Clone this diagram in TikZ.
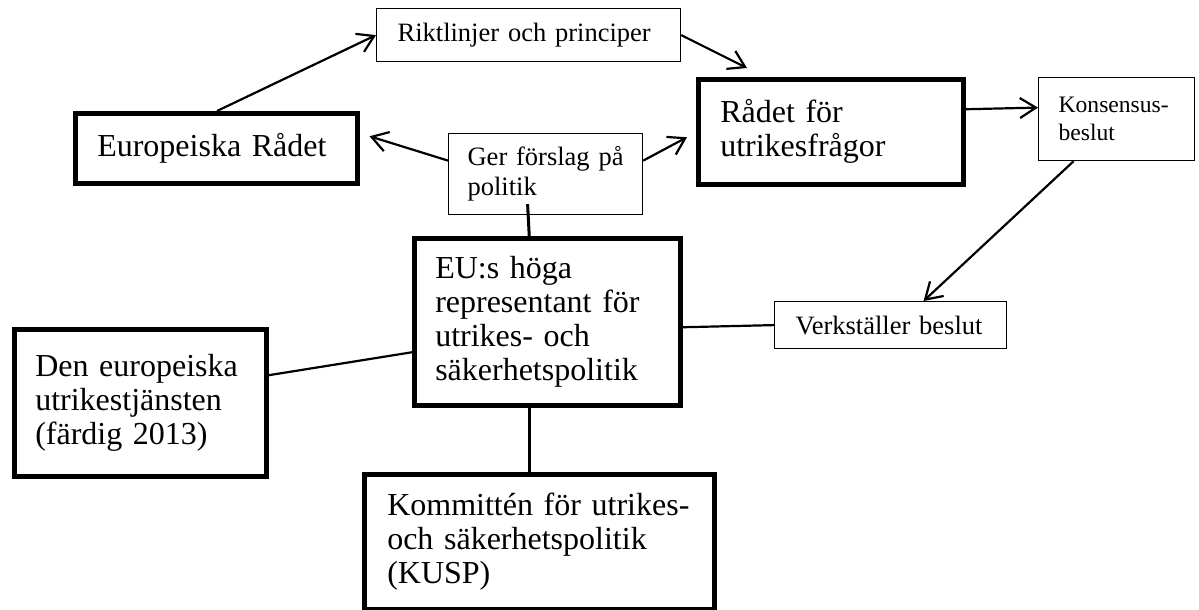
\documentclass[tikz,border=0pt]{standalone}
\usepackage{fontspec}
\setmainfont{Liberation Serif}
\usetikzlibrary{arrows.meta}
\newcommand{\fbig}{\fontsize{32}{34}\selectfont}
\newcommand{\fmid}{\fontsize{26.5}{30}\selectfont}
\newcommand{\fsml}{\fontsize{23.6}{28}\selectfont}
\tikzset{
  boxbase/.style={anchor=north west, align=left, inner sep=2pt, fill=white,
    execute at begin node={\hyphenpenalty=10000\exhyphenpenalty=10000}},
  thickbox/.style={boxbase, draw, line width=4.5pt, font=\fbig},
  thinbox/.style={boxbase, draw, line width=1.2pt, font=\fmid},
  conn/.style={line width=2.2pt},
  vconn/.style={line width=3pt},
  arr/.style={conn, -{Straight Barb[length=16pt, width=20pt, line width=2.2pt]}}
}
\begin{document}
\begin{tikzpicture}[x=1pt, y=-1pt]
\useasboundingbox (0,0) rectangle (1199,610);
% nodes
\node[thickbox, minimum width=282pt, minimum height=70pt, text width=238pt] (eur) at (73,111) {Europeiska Rådet};
\node[thinbox, minimum width=304pt, minimum height=53pt, text width=262pt] (rik) at (376,8) {Riktlinjer och principer};
\node[thickbox, minimum width=265pt, minimum height=105pt, text width=221pt] (rad) at (696,77) {Rådet för\\utrikesfrågor};
\node[thinbox, font=\fsml, minimum width=156pt, minimum height=83pt, text width=116pt] (kon) at (1038,77) {Konsensus-\\beslut};
\node[thinbox, minimum width=194pt, minimum height=81pt, text width=156pt] (ger) at (448,133) {Ger förslag på\\politik};
\node[thickbox, minimum width=266pt, minimum height=167pt, text width=224pt] (eu) at (412,236) {EU:s höga\\representant för\\utrikes- och\\säkerhetspolitik};
\node[thinbox, minimum width=232pt, minimum height=47pt, text width=190pt] (ver) at (774,301) {Verkställer beslut};
\node[thickbox, minimum width=252pt, minimum height=147pt, text width=210pt] (den) at (12,327) {Den europeiska\\utrikestjänsten\\(färdig 2013)};
\node[thickbox, minimum width=350pt, minimum height=135pt, text width=304pt] (kom) at (362,472) {Kommittén för utrikes-\\och säkerhetspolitik\\(KUSP)};
% connectors
\draw[arr] ([xshift=144pt]eur.north west) -- (rik.west);
\draw[arr] (rik.east) -- ([xshift=51pt,yshift=9pt]rad.north west);
\draw[arr] ([yshift=13.5pt]ger.west) -- ([xshift=10pt,yshift=12pt]eur.east);
\draw[arr] ([yshift=13.5pt]ger.east) -- ([xshift=-9pt,yshift=-5.5pt]rad.west);
\draw[arr] ([yshift=22.5pt]rad.east) -- ([yshift=11.5pt]kon.west);
\draw[arr] ([xshift=-43pt]kon.south) -- ([xshift=33pt]ver.north);
\draw[conn] ([yshift=-5.5pt]eu.east) -- (ver.west);
\draw[conn] ([yshift=27.5pt]den.east) -- ([yshift=-30.5pt]eu.west);
\draw[vconn] ([xshift=-18pt,yshift=11pt]ger.south) -- ([xshift=-18pt]eu.north);
\draw[vconn] ([xshift=-18pt]eu.south) -- ([xshift=-18pt]eu.south |- kom.north);
\end{tikzpicture}
\end{document}
